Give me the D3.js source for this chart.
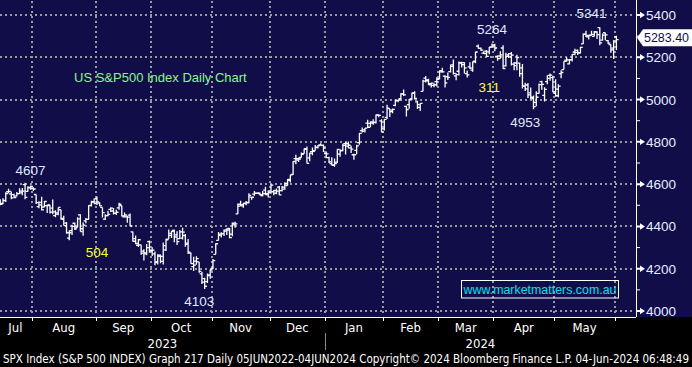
<!DOCTYPE html>
<html><head><meta charset="utf-8">
<script src="https://cdn.jsdelivr.net/npm/d3@7"></script>
<style>html,body{margin:0;padding:0;background:#000;overflow:hidden}</style>
</head><body><svg id="c" width="692" height="367"></svg>
<script>
const dates = [
"2023-07-14","2023-07-17","2023-07-18","2023-07-19","2023-07-20","2023-07-21","2023-07-24","2023-07-25","2023-07-26","2023-07-27","2023-07-28","2023-07-31",
"2023-08-01","2023-08-02","2023-08-03","2023-08-04","2023-08-07","2023-08-08","2023-08-09","2023-08-10","2023-08-11","2023-08-14","2023-08-15","2023-08-16","2023-08-17","2023-08-18","2023-08-21","2023-08-22","2023-08-23","2023-08-24","2023-08-25","2023-08-28","2023-08-29","2023-08-30","2023-08-31",
"2023-09-01","2023-09-05","2023-09-06","2023-09-07","2023-09-08","2023-09-11","2023-09-12","2023-09-13","2023-09-14","2023-09-15","2023-09-18","2023-09-19","2023-09-20","2023-09-21","2023-09-22","2023-09-25","2023-09-26","2023-09-27","2023-09-28","2023-09-29",
"2023-10-02","2023-10-03","2023-10-04","2023-10-05","2023-10-06","2023-10-09","2023-10-10","2023-10-11","2023-10-12","2023-10-13","2023-10-16","2023-10-17","2023-10-18","2023-10-19","2023-10-20","2023-10-23","2023-10-24","2023-10-25","2023-10-26","2023-10-27","2023-10-30","2023-10-31",
"2023-11-01","2023-11-02","2023-11-03","2023-11-06","2023-11-07","2023-11-08","2023-11-09","2023-11-10","2023-11-13","2023-11-14","2023-11-15","2023-11-16","2023-11-17","2023-11-20","2023-11-21","2023-11-22","2023-11-24","2023-11-27","2023-11-28","2023-11-29","2023-11-30",
"2023-12-01","2023-12-04","2023-12-05","2023-12-06","2023-12-07","2023-12-08","2023-12-11","2023-12-12","2023-12-13","2023-12-14","2023-12-15","2023-12-18","2023-12-19","2023-12-20","2023-12-21","2023-12-22","2023-12-26","2023-12-27","2023-12-28","2023-12-29",
"2024-01-02","2024-01-03","2024-01-04","2024-01-05","2024-01-08","2024-01-09","2024-01-10","2024-01-11","2024-01-12","2024-01-16","2024-01-17","2024-01-18","2024-01-19","2024-01-22","2024-01-23","2024-01-24","2024-01-25","2024-01-26","2024-01-29","2024-01-30","2024-01-31",
"2024-02-01","2024-02-02","2024-02-05","2024-02-06","2024-02-07","2024-02-08","2024-02-09","2024-02-12","2024-02-13","2024-02-14","2024-02-15","2024-02-16","2024-02-20","2024-02-21","2024-02-22","2024-02-23","2024-02-26","2024-02-27","2024-02-28","2024-02-29",
"2024-03-01","2024-03-04","2024-03-05","2024-03-06","2024-03-07","2024-03-08","2024-03-11","2024-03-12","2024-03-13","2024-03-14","2024-03-15","2024-03-18","2024-03-19","2024-03-20","2024-03-21","2024-03-22","2024-03-25","2024-03-26","2024-03-27","2024-03-28",
"2024-04-01","2024-04-02","2024-04-03","2024-04-04","2024-04-05","2024-04-08","2024-04-09","2024-04-10","2024-04-11","2024-04-12","2024-04-15","2024-04-16","2024-04-17","2024-04-18","2024-04-19","2024-04-22","2024-04-23","2024-04-24","2024-04-25","2024-04-26","2024-04-29","2024-04-30",
"2024-05-01","2024-05-02","2024-05-03","2024-05-06","2024-05-07","2024-05-08","2024-05-09","2024-05-10","2024-05-13","2024-05-14","2024-05-15","2024-05-16","2024-05-17","2024-05-20","2024-05-21","2024-05-22","2024-05-23","2024-05-24","2024-05-28","2024-05-29","2024-05-30","2024-05-31",
"2024-06-03"];

const openV = [
4515,4509,4522,4564,4554,4550,4543,4555,4559,4598,4566,4585,
4579,4551,4494,4514,4492,4498,4502,4487,4451,4458,4479,4434,4416,4345,4380,4415,4396,4455,4389,4426,4433,4500,4517,
4531,4510,4490,4435,4451,4481,4473,4463,4488,4498,4445,4445,4453,4374,4342,4311,4313,4283,4270,4328,
4285,4270,4234,4259,4235,4289,4340,4367,4381,4360,4342,4345,4357,4321,4274,4210,4236,4232,4176,4153,4139,4171,
4201,4268,4334,4364,4366,4384,4391,4364,4407,4459,4505,4497,4510,4512,4539,4553,4556,4555,4546,4572,4555,
4559,4564,4557,4586,4569,4576,4593,4618,4646,4721,4714,4726,4744,4765,4724,4754,4759,4773,4786,4783,
4745,4725,4697,4691,4704,4742,4760,4792,4791,4772,4739,4760,4796,4853,4857,4889,4887,4889,4893,4926,4899,
4861,4916,4957,4950,4973,4995,5004,5027,4968,4976,5003,5031,4989,4963,5039,5101,5093,5075,5067,5085,
5099,5131,5111,5108,5132,5164,5112,5134,5173,5175,5123,5155,5139,5182,5253,5242,5220,5229,5226,5248,
5258,5204,5194,5244,5159,5211,5217,5168,5173,5172,5150,5065,5069,5032,5005,4987,5029,5085,5020,5085,5114,5104,
5029,5049,5123,5142,5187,5169,5189,5225,5233,5221,5263,5310,5303,5305,5299,5319,5340,5281,5316,5279,5260,5243,
5297];

const highV = [
4528,4533,4562,4578,4565,4555,4563,4581,4582,4607,4590,4594,
4585,4551,4519,4540,4520,4503,4502,4527,4476,4490,4479,4450,4421,4382,4408,4419,4443,4458,4418,4440,4500,4522,4532,
4541,4514,4490,4458,4474,4491,4487,4479,4512,4498,4466,4450,4461,4376,4357,4339,4313,4292,4317,4333,
4301,4281,4269,4267,4324,4342,4385,4379,4386,4377,4383,4394,4364,4340,4277,4256,4259,4232,4184,4157,4177,4196,
4246,4320,4374,4372,4386,4391,4393,4418,4422,4509,4521,4512,4520,4557,4542,4568,4560,4561,4568,4588,4570,
4599,4572,4579,4591,4591,4609,4624,4644,4710,4739,4726,4750,4769,4778,4749,4773,4785,4785,4793,4788,
4754,4729,4727,4721,4765,4765,4791,4799,4802,4782,4744,4786,4842,4868,4866,4904,4898,4907,4929,4931,4907,
4907,4975,4957,4958,5000,5000,5030,5048,4971,5003,5033,5039,4994,4983,5094,5111,5098,5081,5077,5105,
5138,5150,5115,5128,5166,5189,5125,5180,5179,5177,5137,5176,5180,5226,5261,5246,5229,5235,5249,5265,
5264,5208,5229,5257,5222,5220,5225,5178,5212,5175,5168,5080,5078,5057,5019,5039,5076,5089,5058,5115,5123,5111,
5096,5073,5139,5181,5200,5192,5215,5240,5237,5250,5312,5325,5305,5325,5324,5323,5342,5312,5316,5282,5260,5280,
5302];

const lowV = [
4500,4505,4515,4557,4528,4536,4541,4552,4548,4529,4564,4573,
4568,4506,4486,4475,4491,4464,4461,4458,4444,4453,4432,4404,4365,4335,4360,4383,4396,4376,4356,4415,4432,4494,4507,
4501,4496,4442,4430,4448,4468,4457,4454,4479,4447,4442,4417,4401,4329,4316,4303,4266,4239,4264,4275,
4260,4216,4220,4226,4220,4284,4340,4345,4325,4312,4342,4338,4304,4270,4223,4189,4219,4181,4128,4104,4133,4153,
4198,4268,4334,4348,4355,4360,4344,4353,4394,4459,4495,4488,4500,4510,4526,4545,4553,4546,4541,4547,4537,
4555,4547,4552,4547,4565,4574,4593,4608,4643,4694,4705,4726,4744,4698,4708,4737,4758,4769,4781,4752,
4723,4700,4688,4682,4700,4730,4756,4740,4769,4747,4715,4741,4786,4844,4844,4866,4869,4881,4887,4916,4845,
4854,4908,4918,4935,4969,4987,5000,5017,4920,4956,4999,5000,4955,4946,5039,5081,5069,5057,5058,5062,
5095,5127,5057,5092,5128,5118,5091,5114,5152,5123,5104,5145,5132,5172,5241,5230,5216,5203,5214,5246,
5229,5184,5194,5146,5157,5197,5161,5139,5139,5108,5052,5040,5007,5002,4954,4969,5028,5047,4991,5073,5089,5035,
5013,5011,5101,5142,5179,5166,5180,5210,5211,5218,5263,5296,5284,5302,5298,5286,5257,5278,5281,5263,5222,5192,
5234];

const closeV = [
4505,4523,4555,4566,4535,4536,4555,4567,4567,4537,4582,4589,
4577,4513,4502,4478,4518,4499,4468,4469,4464,4490,4438,4404,4370,4370,4400,4388,4436,4376,4406,4433,4498,4515,4508,
4516,4497,4465,4451,4457,4487,4462,4467,4505,4450,4454,4444,4402,4330,4320,4337,4274,4275,4300,4288,
4288,4229,4264,4258,4309,4336,4358,4377,4350,4328,4374,4373,4315,4278,4224,4217,4248,4187,4137,4117,4167,4194,
4238,4318,4358,4366,4378,4383,4347,4415,4412,4496,4503,4508,4514,4547,4538,4557,4559,4550,4555,4551,4568,
4595,4570,4567,4549,4586,4604,4622,4644,4707,4720,4719,4741,4768,4698,4747,4755,4775,4782,4783,4770,
4743,4705,4689,4697,4764,4757,4783,4780,4784,4766,4739,4781,4840,4850,4865,4869,4894,4891,4928,4925,4846,
4906,4959,4943,4954,4995,4998,5027,5022,4953,5001,5030,5006,4976,4982,5087,5089,5070,5078,5070,5096,
5137,5131,5079,5105,5157,5124,5118,5175,5165,5150,5117,5149,5179,5225,5242,5234,5218,5204,5248,5254,
5244,5206,5211,5147,5204,5202,5210,5161,5199,5123,5062,5051,5022,5011,4967,5011,5071,5072,5048,5100,5116,5036,
5018,5064,5128,5181,5188,5188,5214,5223,5221,5247,5308,5297,5303,5308,5321,5307,5268,5305,5306,5267,5235,5278,
5283.40];

const yTicks = [4000, 4200, 4400, 4600, 4800, 5000, 5200, 5400];
const yMinor = [4100, 4300, 4500, 4700, 4900, 5100, 5300];
const monthLabels = ["Jul","Aug","Sep","Oct","Nov","Dec","Jan","Feb","Mar","Apr","May"];
const yearLabels = ["2023","2024"];
const annotText  = ["4607","504","4103","5264","311","4953","5341"];
const annotDate  = ["2023-07-31","2023-09-01","2023-10-25","2024-03-28","2024-03-27","2024-04-16","2024-05-20"];
const annotValue = [4643,4255,4024,5310,5035,4870,5385];
const annotColor = ["#dfe8ff","#ffff33","#dfe8ff","#dfe8ff","#ffff33","#dfe8ff","#dfe8ff"];
const titleText = "US S&P500 Index Daily Chart";
const watermark = "www.marketmatters.com.au";
const footerText = "SPX Index (S&P 500 INDEX) Graph 217  Daily 05JUN2022-04JUN2024 Copyright\u00A9 2024 Bloomberg Finance L.P. 04-Jun-2024 06:48:49";

const W = 692, H = 367, plotR = 636, plotB = 317;
const NAVY = "#100d48";
const svg = d3.select("#c");
const parse = d3.timeParse("%Y-%m-%d");
const fmtMon = d3.timeFormat("%b"), fmtYear = d3.timeFormat("%Y");
const n = Math.min(dates.length, openV.length, highV.length, lowV.length, closeV.length);
const data = d3.range(n).map(i => ({i, d: parse(dates[i]), o: openV[i], h: highV[i], l: lowV[i], c: closeV[i]}));

svg.append("rect").attr("width", W).attr("height", plotB).attr("fill", NAVY);
svg.append("rect").attr("y", plotB).attr("width", W).attr("height", H - plotB).attr("fill", "#000");

const x = d3.scaleLinear().domain([-0.08, 230.1]).range([0, plotR]);
const y = d3.scaleLinear().domain([4000, 5400]).range([311, 15]);

const bounds = [];
for (let i = 1; i < n; i++) {
  if (data[i].d.getMonth() !== data[i-1].d.getMonth()) bounds.push({i, x: x(i - 0.5), d: data[i].d});
}

const grid = svg.append("g").attr("stroke", "#9a9a9a").attr("stroke-width", 2).attr("stroke-dasharray", "2,3");
grid.selectAll("line.h").data(yTicks).join("line").attr("class","h")
  .attr("x1", 0).attr("x2", plotR - 2).attr("y1", d => Math.round(y(d))).attr("y2", d => Math.round(y(d)));
grid.selectAll("line.v").data(bounds).join("line").attr("class","v")
  .attr("x1", d => Math.round(d.x)).attr("x2", d => Math.round(d.x)).attr("y1", 1).attr("y2", plotB - 2);

const bars = svg.append("g").attr("stroke", "#ffffff").attr("stroke-width", 1.3).attr("fill", "none");
bars.selectAll("path").data(data).join("path")
  .attr("d", b => {
    const cx = x(b.i);
    return `M${cx},${y(b.h)}V${y(b.l)}M${cx - 2.3},${y(b.o)}H${cx}M${cx},${y(b.c)}H${cx + 2.3}`;
  });

svg.append("line").attr("x1", plotR + 0.5).attr("x2", plotR + 0.5).attr("y1", 0).attr("y2", plotB)
  .attr("stroke", "#fff").attr("stroke-width", 1);
const ax = svg.append("g");
ax.selectAll("path.maj").data(yTicks).join("path").attr("class","maj")
  .attr("d", v => { const yy = y(v); return `M${plotR},${yy-1}H${plotR+4}V${yy-3.2}L${plotR+9},${yy}L${plotR+4},${yy+3.2}V${yy+1}H${plotR}Z`; })
  .attr("fill", "#fff");
ax.selectAll("line.min").data(yMinor).join("line").attr("class","min")
  .attr("x1", plotR).attr("x2", plotR + 4).attr("y1", v => y(v)).attr("y2", v => y(v))
  .attr("stroke", "#fff").attr("stroke-width", 1);
ax.selectAll("text").data(yTicks).join("text")
  .attr("x", plotR + 10).attr("y", v => y(v) + 5)
  .attr("fill", "#e6ecff").attr("font-family", "Liberation Sans, Arial, sans-serif").attr("font-size", 13.5)
  .text(v => v);

const last = data[n - 1];
const yc = y(last.c) - 2;
svg.append("path")
  .attr("d", `M${plotR + 1},${yc}L${plotR + 7},${yc - 8.5}H${W}V${yc + 8.5}H${plotR + 7}Z`)
  .attr("fill", "#ffffff");
svg.append("text").attr("x", plotR + 8).attr("y", yc + 4.7)
  .attr("fill", NAVY).attr("font-family", "Liberation Sans, Arial, sans-serif").attr("font-size", 13)
  .attr("textLength", 45).attr("lengthAdjust", "spacingAndGlyphs")
  .text(d3.format(".2f")(last.c));

svg.append("line").attr("x1", 0).attr("x2", plotR).attr("y1", plotB + 0.5).attr("y2", plotB + 0.5)
  .attr("stroke", "#fff").attr("stroke-width", 1);
svg.selectAll("line.bt").data(bounds).join("line").attr("class","bt")
  .attr("x1", d => Math.round(d.x) + 0.5).attr("x2", d => Math.round(d.x) + 0.5)
  .attr("y1", plotB).attr("y2", plotB + 4).attr("stroke", "#fff").attr("stroke-width", 1);

const condFont = "'DejaVu Sans Condensed', 'Liberation Sans Narrow', 'DejaVu Sans', sans-serif";
monthLabels.forEach(m => {
  const idx = data.filter(b => fmtMon(b.d) === m);
  if (!idx.length) return;
  const first = idx[0].i, lastI = idx[idx.length - 1].i;
  let cx = (x(first - 0.5) + x(lastI + 0.5)) / 2;
  cx = Math.max(cx, 11);
  svg.append("text").attr("x", cx).attr("y", 332).attr("text-anchor", "middle")
    .attr("fill", "#fff").attr("font-family", condFont).attr("font-stretch", "condensed").attr("font-size", 13)
    .text(m);
});
yearLabels.forEach(yr => {
  const idx = data.filter(b => fmtYear(b.d) === yr);
  const x0 = Math.max(0, x(idx[0].i - 0.5));
  const x1 = yr === yearLabels[yearLabels.length - 1] ? plotR : x(idx[idx.length - 1].i + 0.5);
  svg.append("text").attr("x", (x0 + x1) / 2).attr("y", 348).attr("text-anchor", "middle")
    .attr("fill", "#fff").attr("font-family", condFont).attr("font-stretch", "condensed").attr("font-size", 13)
    .text(yr);
});
const janB = bounds.find(b => b.d.getMonth() === 0);
svg.append("line").attr("x1", Math.round(janB.x) + 0.5).attr("x2", Math.round(janB.x) + 0.5)
  .attr("y1", 333).attr("y2", 350).attr("stroke", "#888").attr("stroke-width", 1);

svg.append("text").attr("x", 3).attr("y", 363)
  .attr("fill", "#fff").attr("font-family", condFont).attr("font-stretch", "condensed").attr("font-size", 11.5)
  .attr("textLength", 686).attr("lengthAdjust", "spacingAndGlyphs")
  .text(footerText);

svg.append("text").attr("x", 74).attr("y", 82)
  .attr("fill", "#8ff58f").attr("font-family", "Liberation Sans, Arial, sans-serif").attr("font-size", 13)
  .text(titleText);

annotText.forEach((t, k) => {
  const i = dates.indexOf(annotDate[k]);
  svg.append("text").attr("x", x(i)).attr("y", y(annotValue[k])).attr("text-anchor", "middle")
    .attr("fill", annotColor[k]).attr("font-family", "Liberation Sans, Arial, sans-serif").attr("font-size", 13.5)
    .text(t);
});

svg.append("rect").attr("x", 461.5).attr("y", 280.5).attr("width", 157).attr("height", 17.5)
  .attr("fill", "none").attr("stroke", "#fff").attr("stroke-width", 1);
svg.append("text").attr("x", 540).attr("y", 294).attr("text-anchor", "middle")
  .attr("fill", "#00e0f0").attr("font-family", "Liberation Sans, Arial, sans-serif").attr("font-size", 13)
  .attr("textLength", 153).attr("lengthAdjust", "spacingAndGlyphs")
  .text(watermark);
</script>
</body></html>
